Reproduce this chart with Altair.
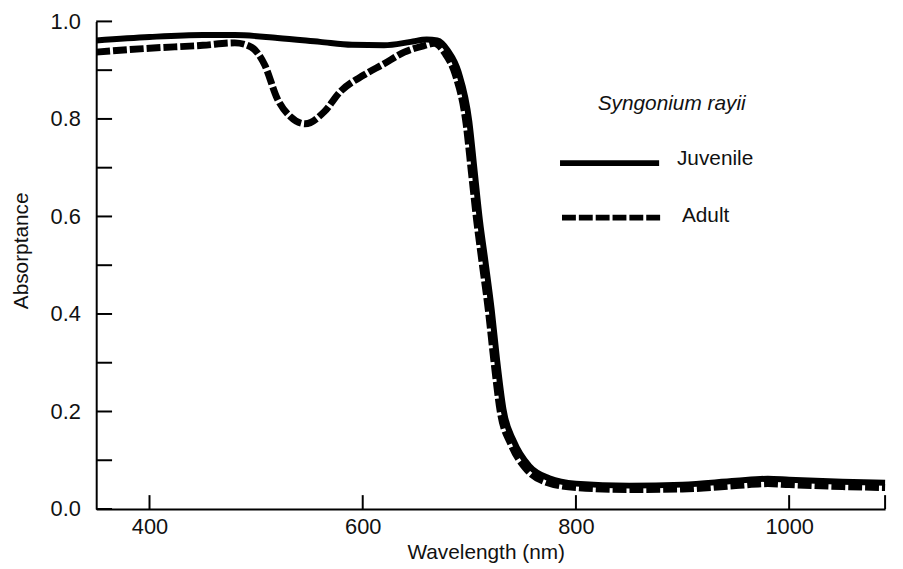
import altair as alt
import pandas as pd

# ---- data ----
juv_nm = [350, 400, 450, 480, 520, 560, 590, 620, 645, 660, 670, 680, 690, 700, 705,
          710, 715, 721, 726, 732, 742, 756, 775, 800, 850, 900, 950, 980, 1000, 1050, 1090]
juv_abs = [0.961, 0.968, 0.972, 0.972, 0.966, 0.958, 0.952, 0.951, 0.958, 0.963, 0.961,
           0.94, 0.896, 0.795, 0.693, 0.591, 0.51, 0.409, 0.307, 0.205, 0.138, 0.089,
           0.063, 0.052, 0.048, 0.05, 0.058, 0.062, 0.06, 0.056, 0.054]

adult_nm = [350, 400, 450, 480, 495, 508, 520, 532, 546, 564, 579, 601, 620, 639, 657,
            667, 677, 687, 697, 702, 707, 712, 718, 723, 729, 739, 753, 772, 800, 850,
            900, 950, 980, 1000, 1050, 1090]
adult_abs = [0.937, 0.945, 0.951, 0.956, 0.948, 0.911, 0.841, 0.805, 0.79, 0.815, 0.856,
             0.89, 0.913, 0.937, 0.95, 0.955, 0.935, 0.89, 0.79, 0.69, 0.59, 0.505, 0.405,
             0.305, 0.2, 0.133, 0.083, 0.055, 0.044, 0.04, 0.041, 0.048, 0.052, 0.05,
             0.046, 0.044]

x_tick_values = [400, 600, 800, 1000, 1090]
x_label_values = [400, 600, 800, 1000]
y_tick_values = [0.0, 0.1, 0.2, 0.3, 0.4, 0.5, 0.6, 0.7, 0.8, 0.9, 1.0]
y_label_values = [0.0, 0.2, 0.4, 0.6, 0.8, 1.0]

legend_title = ["Syngonium rayii"]
series_names = ["Juvenile", "Adult"]

# ---- chart ----
FONT = "Liberation Sans"
W, H = 796, 492

juv = pd.DataFrame({"nm": juv_nm, "a": juv_abs})
adult = pd.DataFrame({"nm": adult_nm, "a": adult_abs})

xs = alt.Scale(domain=[350, 1090], nice=False, zero=False)
ys = alt.Scale(domain=[0, 1], nice=False)

x_axis = alt.Axis(values=x_label_values, format="d", ticks=False, tickSize=0,
                  grid=False, domainColor="black", domainWidth=2,
                  labelFont=FONT, labelFontSize=22, labelColor="#111", labelPadding=8,
                  title="Wavelength (nm)", titleFont=FONT, titleFontSize=21,
                  titleFontWeight="normal", titleColor="#111",
                  titleX=393, titleY=50, titleBaseline="alphabetic", titleAlign="center")
y_axis = alt.Axis(values=y_label_values, format=".1f", ticks=False, tickSize=0,
                  grid=False, domainColor="black", domainWidth=2,
                  labelFont=FONT, labelFontSize=22, labelColor="#111", labelPadding=16,
                  title="Absorptance", titleFont=FONT, titleFontSize=21,
                  titleFontWeight="normal", titleColor="#111",
                  titleAngle=270, titleX=-69, titleY=231, titleBaseline="alphabetic",
                  titleAlign="center")

juv_line = alt.Chart(juv).mark_line(color="black", strokeWidth=6, interpolate="monotone").encode(
    x=alt.X("nm:Q", scale=xs, axis=x_axis),
    y=alt.Y("a:Q", scale=ys, axis=y_axis),
)
adult_line = alt.Chart(adult).mark_line(color="black", strokeWidth=7, strokeDash=[14, 3],
                                        strokeCap="butt", interpolate="monotone").encode(
    x=alt.X("nm:Q", scale=xs, axis=x_axis),
    y=alt.Y("a:Q", scale=ys, axis=y_axis),
)

y_ticks = alt.Chart(pd.DataFrame({"a": y_tick_values})).mark_rule(color="black", strokeWidth=2).encode(
    y=alt.Y("a:Q", scale=ys, axis=y_axis),
    x=alt.value(0), x2=alt.value(16),
)
x_ticks = alt.Chart(pd.DataFrame({"nm": x_tick_values})).mark_rule(color="black", strokeWidth=2).encode(
    x=alt.X("nm:Q", scale=xs, axis=x_axis),
    y=alt.value(H), y2=alt.value(H - 14),
)

leg_title = alt.Chart(pd.DataFrame({"t": legend_title})).mark_text(
    font=FONT, fontSize=21, fontStyle="italic", align="left", baseline="middle", color="#111"
).encode(text="t:N", x=alt.value(506), y=alt.value(83))

leg_juv_line = alt.Chart(pd.DataFrame({"k": [series_names[0]]})).mark_rule(
    color="black", strokeWidth=6
).encode(x=alt.value(468), x2=alt.value(568), y=alt.value(143))
leg_adult_line = alt.Chart(pd.DataFrame({"k": [series_names[1]]})).mark_rule(
    color="black", strokeWidth=6, strokeDash=[14, 3], strokeCap="butt"
).encode(x=alt.value(470), x2=alt.value(569), y=alt.value(198))

leg_juv_text = alt.Chart(pd.DataFrame({"t": [series_names[0]]})).mark_text(
    font=FONT, fontSize=21, align="left", baseline="middle", color="#111"
).encode(text="t:N", x=alt.value(586), y=alt.value(139))
leg_adult_text = alt.Chart(pd.DataFrame({"t": [series_names[1]]})).mark_text(
    font=FONT, fontSize=21, align="left", baseline="middle", color="#111"
).encode(text="t:N", x=alt.value(591), y=alt.value(196))

chart = alt.layer(
    juv_line, adult_line, y_ticks, x_ticks,
    leg_title, leg_juv_line, leg_adult_line, leg_juv_text, leg_adult_text,
).properties(
    width=W, height=H,
    autosize=alt.AutoSizeParams(type="none"),
    padding={"left": 89, "top": 11, "right": 10, "bottom": 58},
    background="white",
).configure_view(stroke=None)

chart.save("out.html", embed_options={"renderer": "svg", "actions": False})
